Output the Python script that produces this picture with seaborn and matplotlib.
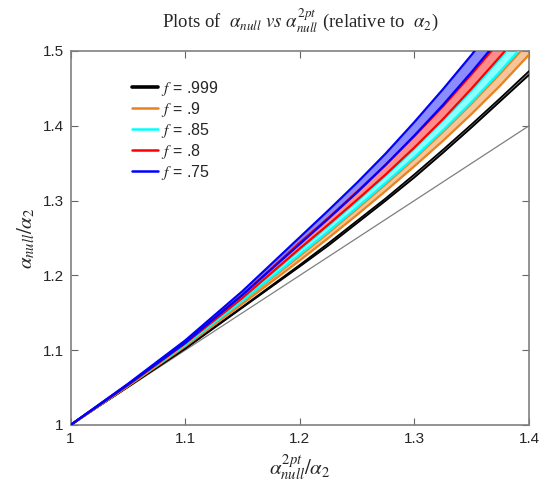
import numpy as np
import pandas as pd
import seaborn as sns
import matplotlib
matplotlib.use("Agg")
import matplotlib.pyplot as plt
from matplotlib.lines import Line2D

# ---- data ----
x_vals = [1.0, 1.05, 1.1, 1.15, 1.2, 1.225, 1.25, 1.275, 1.3, 1.325, 1.35, 1.375, 1.4]
f_labels = [".999", ".9", ".85", ".8", ".75"]
colors = ["#000000", "#E8821E", "#00FFFF", "#FF0000", "#0000FF"]

black_lo = [1.0, 1.051, 1.102, 1.157, 1.212, 1.240, 1.270, 1.300, 1.331, 1.364, 1.398, 1.433, 1.468]
black_hi = [1.0, 1.051, 1.103, 1.158, 1.214, 1.243, 1.273, 1.303, 1.335, 1.368, 1.402, 1.437, 1.473]
orange_lo = [1.0, 1.052, 1.105, 1.162, 1.220, 1.250, 1.281, 1.313, 1.346, 1.380, 1.416, 1.454, 1.495]
orange_hi = [1.0, 1.052, 1.107, 1.165, 1.226, 1.257, 1.289, 1.322, 1.356, 1.392, 1.430, 1.470, 1.512]
cyan_lo = [1.0, 1.053, 1.107, 1.166, 1.228, 1.259, 1.291, 1.324, 1.358, 1.394, 1.432, 1.473, 1.516]
cyan_hi = [1.0, 1.053, 1.109, 1.169, 1.234, 1.266, 1.299, 1.333, 1.369, 1.407, 1.447, 1.490, 1.535]
red_lo = [1.0, 1.053, 1.109, 1.170, 1.236, 1.268, 1.301, 1.335, 1.371, 1.409, 1.450, 1.493, 1.538]
red_hi = [1.0, 1.054, 1.111, 1.174, 1.244, 1.277, 1.312, 1.348, 1.386, 1.426, 1.469, 1.514, 1.562]
blue_lo = [1.0, 1.054, 1.110, 1.174, 1.242, 1.276, 1.311, 1.348, 1.387, 1.428, 1.472, 1.518, 1.567]
blue_hi = [1.0, 1.055, 1.113, 1.179, 1.251, 1.287, 1.324, 1.363, 1.405, 1.449, 1.495, 1.545, 1.598]

diag = [1.0, 1.4]
x_ticks = [1.0, 1.1, 1.2, 1.3, 1.4]
x_ticklabels = ["1", "1.1", "1.2", "1.3", "1.4"]
y_ticks = [1.0, 1.1, 1.2, 1.3, 1.4, 1.5]
y_ticklabels = ["1", "1.1", "1.2", "1.3", "1.4", "1.5"]

bands = [(black_lo, black_hi), (orange_lo, orange_hi), (cyan_lo, cyan_hi),
         (red_lo, red_hi), (blue_lo, blue_hi)]
band_lw = [1.3, 1.6, 1.6, 1.6, 1.6]

rows = []
for lab, (lo, hi) in zip(f_labels, bands):
    for xv, a, b in zip(x_vals, lo, hi):
        rows.append({"x": xv, "y": a, "f": lab, "edge": "lo"})
        rows.append({"x": xv, "y": b, "f": lab, "edge": "hi"})
df = pd.DataFrame(rows)

sns.set_style("ticks")
plt.rcParams["font.family"] = ["Liberation Sans", "DejaVu Sans"]
plt.rcParams["mathtext.fontset"] = "stix"
plt.rcParams["xtick.direction"] = "in"
plt.rcParams["ytick.direction"] = "in"

fig = plt.figure(figsize=(5.4, 4.88), dpi=100)
ax = fig.add_axes([0.1307, 0.1291, 0.8489, 0.7664])

ax.plot(diag, diag, color="#7f7f7f", lw=0.9, zorder=1)

for lab, col, lw, (lo, hi) in zip(f_labels, colors, band_lw, bands):
    ax.fill_between(x_vals, lo, hi, color=col, alpha=0.45, lw=0, zorder=2)
    sub = df[df["f"] == lab]
    sns.lineplot(data=sub, x="x", y="y", units="edge", estimator=None,
                 color=col, lw=lw, ax=ax, legend=False, zorder=3)

ax.set_xlim(1.0, 1.4)
ax.set_ylim(1.0, 1.5)
ax.set_xticks(x_ticks)
ax.set_xticklabels(x_ticklabels)
ax.set_yticks(y_ticks)
ax.set_yticklabels(y_ticklabels)
ax.tick_params(axis="both", labelsize=11, length=5, width=0.8, color="#666666",
               top=True, right=True, pad=5)
for s in ax.spines.values():
    s.set_visible(True)
    s.set_color("#808080")
    s.set_linewidth(1.2)

ax.set_xlabel(r"$\alpha_{null}^{2pt}/\alpha_2$", fontsize=15, labelpad=5)
ax.set_ylabel(r"$\alpha_{null}/\alpha_2$", fontsize=15, labelpad=4)
ax.set_title(r"Plots of  $\alpha_{null}$ $vs$ $\alpha_{null}^{2pt}$ (relative to  $\alpha_2$)",
             fontsize=13.5, family="Liberation Serif", pad=17)

handles = [Line2D([0], [0], color=c, lw=2.6 if i == 0 else 1.8) for i, c in enumerate(colors)]
labels = [r"$f$ = " + l for l in f_labels]
ax.legend(handles, labels, loc="upper left", bbox_to_anchor=(0.134, 0.925),
          frameon=False, borderpad=0, handlelength=1.6, handletextpad=0.2,
          labelspacing=0.12, fontsize=11.5, borderaxespad=0)

fig.savefig("out.png", dpi=100)
